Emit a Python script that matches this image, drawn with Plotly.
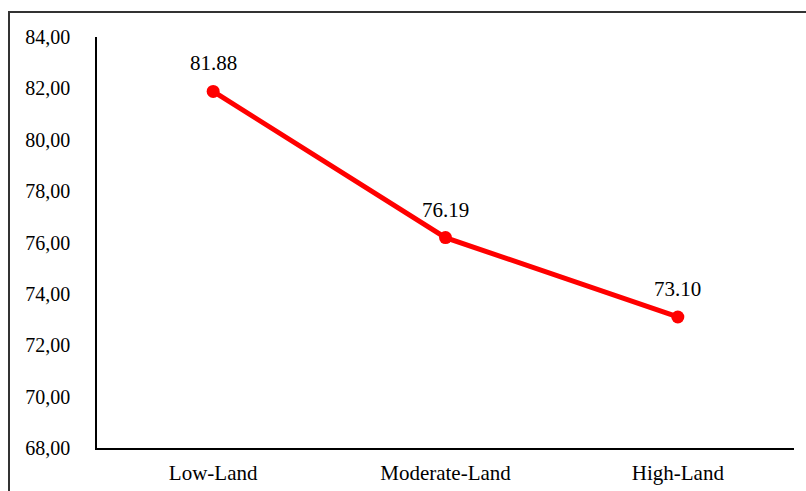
import plotly.graph_objects as go

# Mean values by land elevation class
categories = ["Low-Land", "Moderate-Land", "High-Land"]
values = [81.88, 76.19, 73.10]

y_min, y_max, y_step = 68, 84, 2

SERIF = "Times New Roman, Liberation Serif, serif"

fig = go.Figure()
fig.add_trace(go.Scatter(
    x=categories,
    y=values,
    mode="lines+markers",
    line=dict(color="#FF0000", width=5),
    marker=dict(color="#FF0000", size=13),
    showlegend=False,
    hoverinfo="skip",
))

# Value labels above each point
for c, v in zip(categories, values):
    fig.add_annotation(
        x=c, y=v, text=f"{v:.2f}", showarrow=False,
        yshift=28, font=dict(family=SERIF, size=21, color="#000000"),
    )

W, H = 806, 491
ml, mr, mt, mb = 97, 12, 37, 43
pw, ph = W - ml - mr, H - mt - mb

# Outer frame around the chart area
fig.add_shape(
    type="rect", xref="paper", yref="paper",
    x0=(9 - ml) / pw, x1=(W + 20 - ml) / pw,
    y0=-(mb + 20) / ph, y1=1 + (mt - 12) / ph,
    line=dict(color="#333333", width=2), layer="below",
)

fig.update_layout(
    width=W, height=H,
    margin=dict(l=ml, r=mr, t=mt, b=mb, autoexpand=False),
    paper_bgcolor="white", plot_bgcolor="white",
    separators=",.",
    font=dict(family=SERIF, color="#000000"),
    xaxis=dict(
        range=[-0.5, 2.5], showline=True, linecolor="#000000", linewidth=1.5,
        showgrid=False, zeroline=False, ticks="", automargin=False,
        tickfont=dict(family=SERIF, size=21), ticklabelstandoff=5,
    ),
    yaxis=dict(
        range=[y_min, y_max], dtick=y_step, tick0=y_min, tickformat=".2f",
        showline=True, linecolor="#000000", linewidth=1.5,
        showgrid=False, zeroline=False, ticks="", automargin=False,
        tickfont=dict(family=SERIF, size=20), ticklabelstandoff=21,
    ),
)

fig.write_html("out.html")
